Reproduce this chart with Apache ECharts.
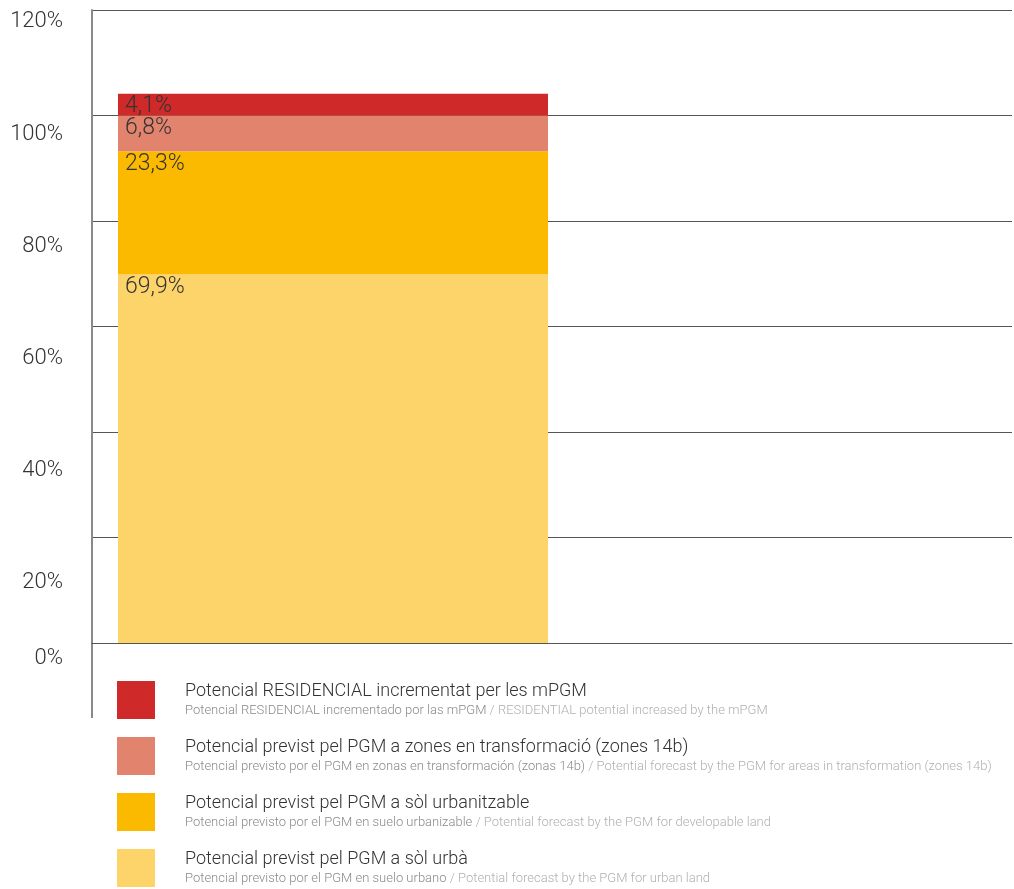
<!DOCTYPE html>
<html>
<head>
<meta charset="utf-8">
<script src="https://cdn.jsdelivr.net/npm/echarts@6/dist/echarts.min.js"></script>
<style>html,body{margin:0;padding:0;background:#fff}#c{width:1014px;height:889px}</style>
</head>
<body>
<div id="c"></div>
<script>
const categories = ['PGM', ''];
const seriesNames = [
  'Potencial previst pel PGM a sòl urbà',
  'Potencial previst pel PGM a sòl urbanitzable',
  'Potencial previst pel PGM a zones en transformació (zones 14b)',
  'Potencial RESIDENCIAL incrementat per les mPGM'
];
const subES = [
  'Potencial previsto por el PGM en suelo urbano',
  'Potencial previsto por el PGM en suelo urbanizable',
  'Potencial previsto por el PGM en zonas en transformación (zonas 14b)',
  'Potencial RESIDENCIAL incrementado por las mPGM'
];
const subEN = [
  'Potential forecast by the PGM for urban land',
  'Potential forecast by the PGM for developable land',
  'Potential forecast by the PGM for areas in transformation (zones 14b)',
  'RESIDENTIAL potential increased by the mPGM'
];
const values = [69.9, 23.3, 6.8, 4.1];
const colors = ['#FDD469', '#FBB900', '#E2836D', '#D0292A'];
const yTicks = [0, 20, 40, 60, 80, 100, 120];

const chart = echarts.init(document.getElementById('c'), null, {renderer: 'canvas'});
const labelShift = {0: 15, 20: 45, 40: 38, 60: 32, 80: 25, 100: 19, 120: 11};
const rich = {};
yTicks.forEach(v => {
  rich['y' + v] = {fontSize: 22, color: '#333', fontFamily: 'Roboto', fontWeight: 300,
    padding: [labelShift[v] * 2, 0, 0, 0]};
});

const series = [{
  // invisible spacer that shifts the stacked bar within its category band
  name: 'spacer', type: 'bar', stack: 'spacer', barWidth: 22, barGap: 0,
  data: [0, null], itemStyle: {color: 'rgba(0,0,0,0)'}, silent: true,
  emphasis: {disabled: true}
}].concat(values.map((v, i) => ({
  name: seriesNames[i],
  type: 'bar',
  stack: 'total',
  barWidth: 430,
  barGap: 0,
  data: [v, null],
  itemStyle: {color: colors[i]},
  label: {
    show: true, position: 'insideTopLeft', distance: 7,
    formatter: p => p.value.toFixed(1).replace('.', ',') + '%',
    fontSize: 23, color: '#333', fontFamily: 'Roboto', fontWeight: 300,
    offset: [0, -6]
  },
  emphasis: {disabled: true}
})));

const legendData = seriesNames.slice().reverse();

chart.setOption({
  animation: false,
  grid: {left: 92, right: 2, top: 10, bottom: 246},
  xAxis: {
    type: 'category', data: categories,
    axisLine: {show: true, lineStyle: {color: '#555', width: 1}},
    axisTick: {show: false}, axisLabel: {show: false}
  },
  yAxis: {
    type: 'value', min: 0, max: 120, interval: 20,
    axisLine: {show: true, lineStyle: {color: '#8a8a8a', width: 2}},
    axisTick: {show: false},
    splitLine: {lineStyle: {color: '#555', width: 1}},
    axisLabel: {
      margin: 29,
      formatter: v => '{y' + v + '|' + v + '%}',
      rich: rich
    }
  },
  legend: {
    orient: 'vertical', left: 117, top: 681, padding: 0,
    itemWidth: 38, itemHeight: 38, itemGap: 18,
    icon: 'rect', selectedMode: false,
    data: legendData,
    formatter: name => {
      const i = seriesNames.indexOf(name);
      return '{t|' + name + '}\n{s|' + subES[i] + '}{g| / ' + subEN[i] + '}';
    },
    textStyle: {
      padding: [0, 0, 0, 25],
      rich: {
        t: {fontSize: 18, color: '#333', fontFamily: 'Roboto', fontWeight: 300, lineHeight: 21},
        s: {fontSize: 13, color: '#8a8a8a', fontFamily: 'Roboto', fontWeight: 300, lineHeight: 17},
        g: {fontSize: 13, color: '#b0b0b0', fontFamily: 'Roboto', fontWeight: 300, lineHeight: 17}
      }
    }
  },
  graphic: [{
    type: 'line', shape: {x1: 92, y1: 643, x2: 92, y2: 718},
    style: {stroke: '#8a8a8a', lineWidth: 2}, silent: true
  }],
  series: series
});
</script>
</body>
</html>
